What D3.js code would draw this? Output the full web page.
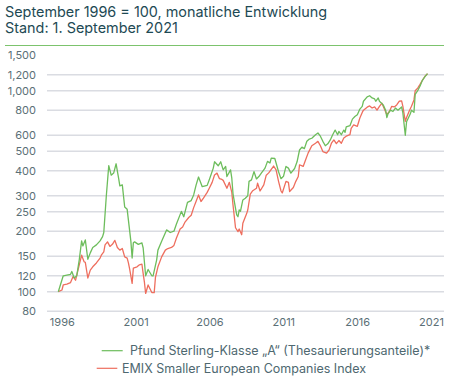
<!DOCTYPE html>
<html><head><meta charset="utf-8">
<script src="https://cdn.jsdelivr.net/npm/d3@7"></script>
<style>
html,body{margin:0;padding:0;background:#fff;}
svg{display:block;font-family:Inter,"Open Sans",sans-serif;}
</style></head>
<body><svg id="c" width="450" height="381"></svg>
<script>
const titleLines = ["September 1996 = 100, monatliche Entwicklung", "Stand: 1. September 2021"];
const seriesNames = ["Pfund Sterling-Klasse \u201EA\u201C (Thesaurierungsanteile)*", "EMIX Smaller European Companies Index"];
const yTicks = [80,100,120,150,200,250,300,400,500,600,800,1000,1200,1500];
const xTickYears = [1996,2001,2006,2011,2016,2021];

const fundDates = ["1996-09","1997-01","1997-04","1997-07","1997-08","1997-10","1997-12","1998-02","1998-04","1998-05","1998-07","1998-09","1998-11","1999-01","1999-04","1999-07","1999-09","1999-10","1999-12","2000-02","2000-04","2000-06","2000-08","2000-10","2000-11","2001-01","2001-03","2001-05","2001-08","2001-09","2001-10","2001-11","2002-02","2002-05","2002-06","2002-08","2002-10","2003-01","2003-02","2003-03","2003-05","2003-06","2003-09","2004-01","2004-04","2004-07","2004-09","2005-01","2005-03","2005-06","2005-09","2005-11","2006-01","2006-03","2006-06","2006-10","2006-12","2007-03","2007-04","2007-07","2007-09","2007-11","2008-01","2008-02","2008-05","2008-06","2008-07","2008-09","2008-10","2008-11","2008-12","2009-01","2009-03","2009-05","2009-07","2009-08","2009-10","2009-12","2010-02","2010-04","2010-06","2010-09","2010-11","2011-01","2011-02","2011-05","2011-08","2011-10","2011-12","2012-02","2012-04","2012-06","2012-09","2012-11","2013-01","2013-03","2013-05","2013-07","2013-09","2013-11","2014-02","2014-04","2014-06","2014-08","2014-10","2014-12","2015-02","2015-04","2015-06","2015-08","2015-09","2015-11","2016-01","2016-02","2016-03","2016-06","2016-08","2016-10","2016-12","2017-02","2017-04","2017-05","2017-08","2017-10","2017-12","2018-02","2018-03","2018-05","2018-06","2018-09","2018-11","2018-12","2019-01","2019-03","2019-05","2019-07","2019-09","2019-12","2020-01","2020-03","2020-04","2020-07","2020-08","2020-10","2020-11","2021-01","2021-03","2021-05","2021-07","2021-09"];
const fundValues = [100,120,121,122,126,117,120,144,179,169,181,145,156,166,171,179,188,197,297,424,380,389,433,367,336,340,264,257,178,147,175,177,172,175,165,120,129,120,120,127,144,161,178,203,197,200,217,251,236,278,284,303,340,372,333,338,365,412,443,423,443,404,420,374,404,367,307,260,241,236,255,251,286,292,300,354,360,396,364,374,389,412,445,437,462,460,395,365,375,420,412,389,410,443,507,524,515,560,575,580,604,616,594,560,532,544,569,604,637,604,627,604,637,620,660,670,722,744,760,810,836,886,932,944,920,910,886,920,886,850,800,735,770,800,788,820,800,830,775,600,700,765,800,780,960,1000,1055,1130,1175,1215];

const indexDates = ["1996-09","1996-12","1997-01","1997-04","1997-07","1997-09","1997-11","1998-01","1998-04","1998-06","1998-07","1998-09","1998-11","1999-01","1999-04","1999-07","1999-08","1999-10","1999-11","2000-01","2000-03","2000-05","2000-07","2000-09","2000-11","2001-01","2001-03","2001-05","2001-06","2001-07","2001-09","2001-10","2002-01","2002-03","2002-05","2002-06","2002-07","2002-08","2002-10","2002-12","2003-01","2003-03","2003-04","2003-06","2003-09","2003-12","2004-02","2004-05","2004-07","2004-09","2004-12","2005-02","2005-04","2005-07","2005-09","2005-11","2006-01","2006-03","2006-05","2006-07","2006-10","2006-12","2007-02","2007-04","2007-06","2007-08","2007-10","2007-11","2008-02","2008-04","2008-06","2008-07","2008-09","2008-11","2008-12","2009-02","2009-03","2009-06","2009-07","2009-09","2009-11","2010-02","2010-03","2010-05","2010-08","2010-10","2010-12","2011-04","2011-06","2011-08","2011-10","2011-11","2012-02","2012-04","2012-05","2012-08","2012-10","2012-12","2013-01","2013-04","2013-06","2013-08","2013-11","2014-02","2014-04","2014-06","2014-08","2014-11","2015-01","2015-03","2015-05","2015-07","2015-09","2015-11","2016-01","2016-03","2016-06","2016-07","2016-09","2016-12","2017-02","2017-04","2017-05","2017-08","2017-10","2017-12","2018-02","2018-04","2018-06","2018-08","2018-10","2018-12","2019-02","2019-04","2019-06","2019-08","2019-10","2019-12","2020-01","2020-03","2020-04","2020-06","2020-08","2020-10","2020-11","2021-01","2021-03","2021-05","2021-07","2021-09"];
const indexValues = [100,102,108,109,111,119,114,128,152,141,140,117,128,133,139,147,152,158,171,177,168,172,180,166,161,164,149,147,139,130,110,131,133,136,137,123,112,98,108,102,99,99,118,133,149,161,164,166,170,185,205,210,222,234,240,262,282,303,281,292,312,330,350,381,389,365,362,358,327,350,312,270,208,199,205,192,219,244,255,306,318,327,347,317,340,380,390,422,404,354,317,310,354,350,315,330,354,374,428,420,453,489,532,548,560,532,498,489,507,548,569,545,565,548,582,594,604,650,676,665,731,780,800,828,840,820,830,800,836,867,811,760,788,836,830,850,886,890,836,704,735,788,836,900,1000,1030,1075,1130,1180,1215];

const colors = ["#6dbd5c", "#ee6e5e"];

const parse = d3.timeParse("%Y-%m");
const svg = d3.select("#c");

// title
svg.selectAll("text.title").data(titleLines).join("text")
  .attr("class","title")
  .attr("x", 5).attr("y", (d,i) => 16.5 + i*16.5)
  .attr("font-size", 14.4).attr("fill", "#1e4a54")
  .text(d => d);
svg.append("line").attr("x1",5).attr("x2",444).attr("y1",45.5).attr("y2",45.5)
  .attr("stroke","#7cc36d").attr("stroke-width",1);

const x = d3.scaleTime().domain([parse("1996-09"), parse("2021-09")]).range([58.3, 427.5]);
const y = d3.scaleLog().domain([100, 1000]).range([291.7, 90.7]);

// grid
const gridG = svg.append("g");
gridG.selectAll("line").data(yTicks.filter(v => v !== 1500)).join("line")
  .attr("x1", 47).attr("x2", 444)
  .attr("y1", d => y(d)).attr("y2", d => y(d))
  .attr("stroke", "#dadce2").attr("stroke-width", 1.4);

// y axis labels
const yAxis = d3.axisLeft(y).tickValues(yTicks).tickSize(0).tickPadding(0)
  .tickFormat(d3.format(","));
const yg = svg.append("g").attr("transform","translate(36,0)").call(yAxis);
yg.select(".domain").remove();
yg.selectAll("text").attr("font-size", 11).attr("fill", "#5b6f76").attr("font-family","Inter,sans-serif");

// x axis labels
const xAxis = d3.axisBottom(x)
  .tickValues(xTickYears.map(yr => new Date(yr, 8, 1)))
  .tickSize(0).tickPadding(0).tickFormat(d3.timeFormat("%Y"));
const xg = svg.append("g").attr("transform","translate(3.5,318)").call(xAxis);
xg.select(".domain").remove();
xg.selectAll("text").attr("font-size", 11).attr("fill", "#5b6f76").attr("font-family","Inter,sans-serif");

// lines
const line = d3.line().x(d => x(d[0])).y(d => y(d[1]));
const fund = fundDates.map((d,i) => [parse(d), fundValues[i]]);
const idx = indexDates.map((d,i) => [parse(d), indexValues[i]]);
svg.append("path").datum(idx).attr("d", line).attr("fill","none")
  .attr("stroke", colors[1]).attr("stroke-width", 1.3).attr("stroke-linejoin","round");
svg.append("path").datum(fund).attr("d", line).attr("fill","none")
  .attr("stroke", colors[0]).attr("stroke-width", 1.3).attr("stroke-linejoin","round");

// legend
const legend = [
  {name: seriesNames[0], color: colors[0], x1: 101.7, x2: 122.7, tx: 130, y: 350.7},
  {name: seriesNames[1], color: colors[1], x1: 96.7, x2: 117.3, tx: 122, y: 368.3}
];
const lg = svg.append("g");
lg.selectAll("line").data(legend).join("line")
  .attr("x1", d => d.x1).attr("x2", d => d.x2).attr("y1", d => d.y).attr("y2", d => d.y)
  .attr("stroke", d => d.color).attr("stroke-width", 1.2);
lg.selectAll("text").data(legend).join("text")
  .attr("x", d => d.tx).attr("y", d => d.y + 4.5)
  .attr("font-size", 12.5).attr("fill", "#4e6870")
  .text(d => d.name);
</script></body></html>
